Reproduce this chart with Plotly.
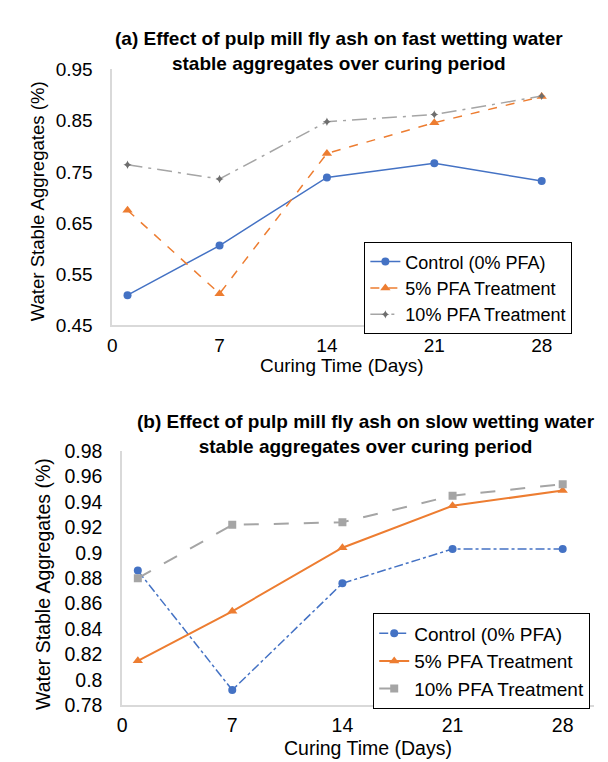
import plotly.graph_objects as go

# ---------------- data ----------------
days = [1, 7, 14, 21, 28]
x_ticks = [0, 7, 14, 21, 28]

series_names = ["Control (0% PFA)", "5% PFA Treatment", "10% PFA Treatment"]

# (a) fast wetting
fast_control = [0.509, 0.606, 0.739, 0.767, 0.732]
fast_5 = [0.675, 0.512, 0.786, 0.846, 0.897]
fast_10 = [0.764, 0.736, 0.848, 0.862, 0.898]
a_yticks = [0.45, 0.55, 0.65, 0.75, 0.85, 0.95]
a_yticktext = ["0.45", "0.55", "0.65", "0.75", "0.85", "0.95"]

# (b) slow wetting
slow_control = [0.886, 0.792, 0.876, 0.903, 0.903]
slow_5 = [0.815, 0.854, 0.904, 0.937, 0.949]
slow_10 = [0.880, 0.922, 0.924, 0.945, 0.954]
b_yticks = [0.78, 0.80, 0.82, 0.84, 0.86, 0.88, 0.90, 0.92, 0.94, 0.96, 0.98]
b_yticktext = ["0.78", "0.8", "0.82", "0.84", "0.86", "0.88", "0.9", "0.92", "0.94", "0.96", "0.98"]

title_a = "(a) Effect of pulp mill fly ash on fast wetting water<br>stable aggregates over curing period"
title_b = "(b) Effect of pulp mill fly ash on slow wetting water<br>stable aggregates over curing period"
x_title = "Curing Time (Days)"
y_title = "Water Stable Aggregates (%)"

BLUE = "#4472C4"
ORANGE = "#ED7D31"
GRAY = "#A5A5A5"
FONT = "Liberation Sans, Arial, sans-serif"

W, H = 608, 762


def py(px):
    return 1 - px / H


def pxx(px):
    return px / W


fig = go.Figure()

# ---- chart (a) ----
fig.add_trace(go.Scatter(x=days, y=fast_control, name=series_names[0], mode="lines+markers",
                         line=dict(color=BLUE, width=1.5), marker=dict(symbol="circle", size=8, color=BLUE),
                         xaxis="x", yaxis="y", legend="legend"))
fig.add_trace(go.Scatter(x=days, y=fast_5, name=series_names[1], mode="lines+markers",
                         line=dict(color=ORANGE, width=1.5, dash="dash"),
                         marker=dict(symbol="triangle-up", size=9, color=ORANGE),
                         xaxis="x", yaxis="y", legend="legend"))
fig.add_trace(go.Scatter(x=days, y=fast_10, name=series_names[2], mode="lines+markers",
                         line=dict(color=GRAY, width=1.5, dash="longdashdot"),
                         marker=dict(symbol="star-diamond", size=6, color="#6E6E6E"),
                         xaxis="x", yaxis="y", legend="legend"))

# ---- chart (b) ----
fig.add_trace(go.Scatter(x=days, y=slow_control, name=series_names[0], mode="lines+markers",
                         line=dict(color=BLUE, width=1.5, dash="dashdot"),
                         marker=dict(symbol="circle", size=8, color=BLUE),
                         xaxis="x2", yaxis="y2", legend="legend2"))
fig.add_trace(go.Scatter(x=days, y=slow_5, name=series_names[1], mode="lines+markers",
                         line=dict(color=ORANGE, width=2),
                         marker=dict(symbol="triangle-up", size=9, color=ORANGE),
                         xaxis="x2", yaxis="y2", legend="legend2"))
fig.add_trace(go.Scatter(x=days, y=slow_10, name=series_names[2], mode="lines+markers",
                         line=dict(color=GRAY, width=2, dash="longdash"),
                         marker=dict(symbol="square", size=8, color=GRAY),
                         xaxis="x2", yaxis="y2", legend="legend2"))

axis_common = dict(showgrid=False, zeroline=False, showline=True, linecolor="#D9D9D9", linewidth=1.5,
                   ticks="", color="#000000")

fig.update_layout(
    width=W, height=H,
    margin=dict(l=0, r=0, t=0, b=0),
    paper_bgcolor="white", plot_bgcolor="white",
    font=dict(family=FONT, color="#000000"),
    xaxis=dict(domain=[pxx(100), pxx(564)], range=[0, 30], tickvals=x_ticks, anchor="y",
               tickfont=dict(size=19), ticklabelstandoff=2, **axis_common),
    yaxis=dict(domain=[py(315.5), py(52)], range=[0.45, 0.95], tickvals=a_yticks, ticktext=a_yticktext,
               anchor="x", tickfont=dict(size=19), ticklabelstandoff=14, **axis_common),
    xaxis2=dict(domain=[pxx(110), pxx(586)], range=[0, 30], tickvals=x_ticks, anchor="y2",
                tickfont=dict(size=19.5), ticklabelstandoff=2, **axis_common),
    yaxis2=dict(domain=[py(706.7), py(445)], range=[0.78, 0.98], tickvals=b_yticks, ticktext=b_yticktext,
                anchor="x2", tickfont=dict(size=19.5), ticklabelstandoff=14, **axis_common),
    legend=dict(x=pxx(564), xanchor="right", y=py(230), yanchor="top",
                bordercolor="#000000", borderwidth=1, bgcolor="white",
                font=dict(size=18), itemwidth=30),
    legend2=dict(x=pxx(582), xanchor="right", y=py(612), yanchor="top",
                 bordercolor="#000000", borderwidth=1, bgcolor="white",
                 font=dict(size=19), itemwidth=30),
    showlegend=True,
)

annotations = [
    dict(text="<b>" + title_a.replace("<br>", "</b><br><b>") + "</b>", x=pxx(328.5), y=py(32.5), font=dict(size=19)),
    dict(text="<b>" + title_b.replace("<br>", "</b><br><b>") + "</b>", x=pxx(356), y=py(427), font=dict(size=19)),
    dict(text=x_title, x=pxx(332), y=py(357), font=dict(size=19)),
    dict(text=y_title, x=pxx(25), y=py(188), font=dict(size=18.6), textangle=-90),
    dict(text=x_title, x=pxx(358), y=py(751), font=dict(size=19.5)),
    dict(text=y_title, x=pxx(30), y=py(582), font=dict(size=19.5), textangle=-90),
]
for a in annotations:
    a.update(xref="paper", yref="paper", showarrow=False, xanchor="center", yanchor="middle")
fig.update_layout(annotations=annotations)

fig.write_html("out.html")
